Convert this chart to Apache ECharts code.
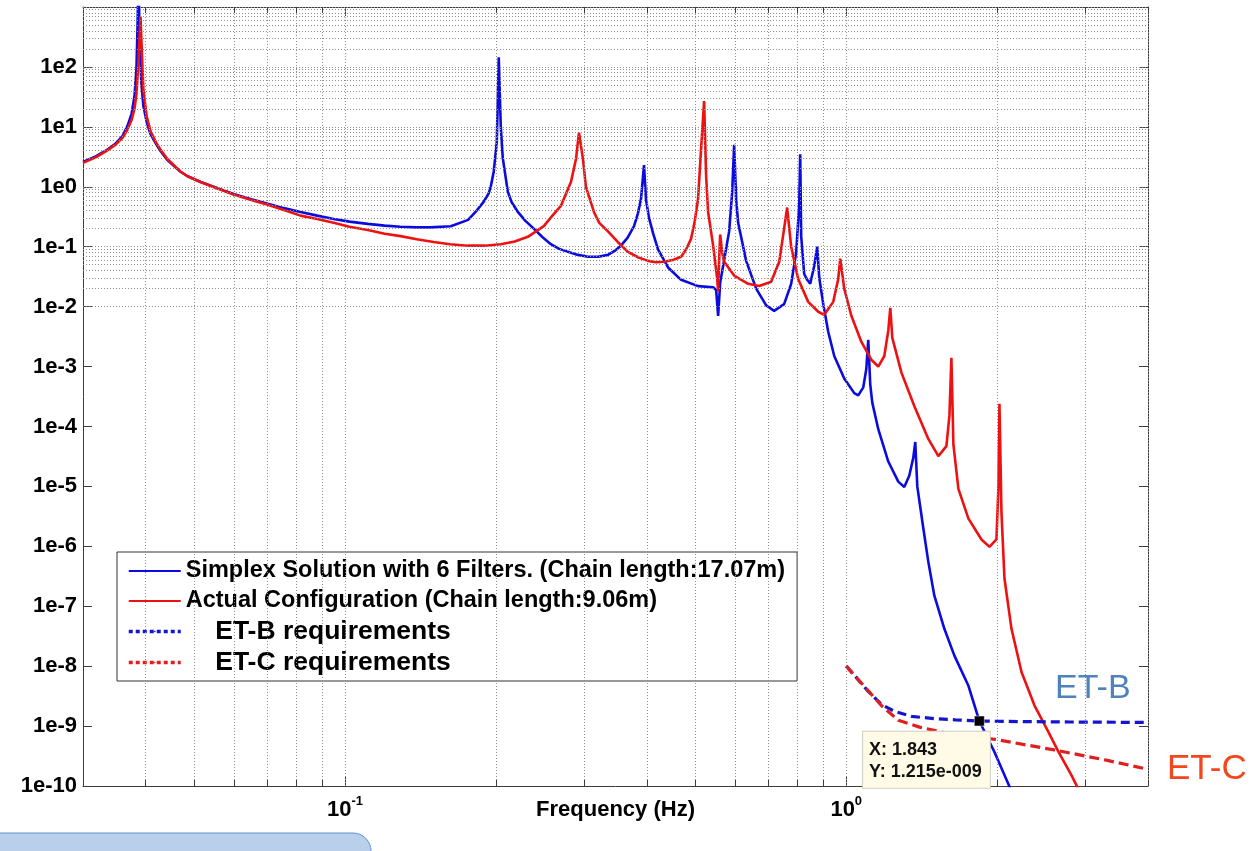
<!DOCTYPE html>
<html>
<head>
<meta charset="utf-8">
<script src="https://cdn.jsdelivr.net/npm/echarts@6/dist/echarts.min.js"></script>
<style>
html,body{margin:0;padding:0;background:#ffffff;}
#chart{width:1255px;height:851px;}
</style>
</head>
<body>
<div id="chart"></div>
<script>
// ---------------- data ----------------
const seriesNames = [
  'Simplex Solution with 6 Filters. (Chain length:17.07m)',
  'Actual Configuration (Chain length:9.06m)',
  'ET-B requirements',
  'ET-C requirements'
];

const simplexFreq = [0.0300, 0.0318, 0.0333, 0.0348, 0.0360, 0.0368, 0.0375, 0.0380, 0.03835, 0.03853, 0.03871, 0.03889, 0.03907, 0.03925, 0.0396, 0.0402, 0.0409, 0.0419, 0.0428, 0.0442, 0.0469, 0.0485, 0.0515, 0.055, 0.0599, 0.065, 0.0701, 0.0755, 0.0815, 0.088, 0.0949, 0.102, 0.111, 0.12, 0.129, 0.139, 0.148, 0.1625, 0.176, 0.1821, 0.189, 0.1935, 0.1953, 0.198, 0.2008, 0.2026, 0.2045, 0.2064, 0.2112, 0.215, 0.2212, 0.229, 0.238, 0.2475, 0.2574, 0.2675, 0.2784, 0.2915, 0.3052, 0.32, 0.3346, 0.345, 0.3552, 0.366, 0.3772, 0.384, 0.3895, 0.3949, 0.3986, 0.4042, 0.4115, 0.4211, 0.441, 0.4682, 0.5062, 0.5425, 0.55, 0.5551, 0.5603, 0.5707, 0.5839, 0.592, 0.5975, 0.6031, 0.6086, 0.6313, 0.6611, 0.6922, 0.718, 0.7517, 0.7764, 0.7945, 0.8056, 0.8093, 0.813, 0.8243, 0.8358, 0.8475, 0.8633, 0.8752, 0.8834, 0.8999, 0.9205, 0.9463, 0.9908, 1.0375, 1.0568, 1.0813, 1.0964, 1.1064, 1.1166, 1.127, 1.1585, 1.213, 1.27, 1.3056, 1.3357, 1.3606, 1.3731, 1.3859, 1.4248, 1.458, 1.4989, 1.5695, 1.6434, 1.753, 1.843, 1.9755, 2.107, 2.186];
const simplexAmp = [2.6, 3.2, 4.0, 5.2, 7.1, 10.4, 16.5, 32, 93, 435, 3000, 400, 120, 50, 22, 12, 7.6, 5.3, 4.0, 2.8, 1.8, 1.5, 1.2, 0.98, 0.76, 0.62, 0.52, 0.44, 0.38, 0.33, 0.29, 0.262, 0.24, 0.225, 0.215, 0.21, 0.21, 0.22, 0.28, 0.38, 0.56, 0.78, 1.0, 1.8, 5.6, 145, 10, 3.0, 0.83, 0.55, 0.38, 0.27, 0.2, 0.145, 0.11, 0.092, 0.082, 0.073, 0.068, 0.068, 0.073, 0.085, 0.104, 0.14, 0.22, 0.36, 0.63, 2.3, 0.6, 0.3, 0.17, 0.09, 0.045, 0.028, 0.022, 0.021, 0.019, 0.007, 0.025, 0.06, 0.18, 0.8, 5.0, 0.6, 0.25, 0.058, 0.02, 0.0105, 0.0085, 0.011, 0.024, 0.08, 0.5, 3.5, 0.15, 0.035, 0.028, 0.024, 0.048, 0.1, 0.03, 0.011, 0.0038, 0.0015, 6.3e-4, 3.6e-4, 3.3e-4, 4.5e-4, 9e-4, 2.8e-3, 5e-4, 2.5e-4, 9e-5, 2.6e-5, 1.2e-5, 9.8e-6, 1.5e-5, 3e-5, 5.5e-5, 1e-5, 2e-6, 5.5e-7, 1.5e-7, 4.2e-8, 1.5e-8, 4.7e-9, 1.215e-9, 3.7e-10, 1.07e-10, 5e-11];

const actualFreq = [0.0300, 0.0318, 0.0333, 0.0348, 0.0360, 0.0368, 0.0375, 0.0380, 0.03835, 0.03871, 0.03889, 0.03907, 0.03925, 0.0396, 0.0402, 0.0409, 0.0419, 0.0428, 0.0442, 0.0469, 0.0485, 0.0515, 0.055, 0.0599, 0.065, 0.0701, 0.0755, 0.0815, 0.088, 0.0949, 0.102, 0.111, 0.12, 0.129, 0.139, 0.1503, 0.162, 0.1757, 0.19, 0.2045, 0.218, 0.2316, 0.2492, 0.2585, 0.2696, 0.2823, 0.2889, 0.2929, 0.2983, 0.3024, 0.3137, 0.3215, 0.3346, 0.35, 0.3669, 0.385, 0.4023, 0.417, 0.4329, 0.451, 0.4682, 0.479, 0.4901, 0.498, 0.5062, 0.5133, 0.5205, 0.5253, 0.5301, 0.5425, 0.5525, 0.5551, 0.5577, 0.5603, 0.5655, 0.5707, 0.5975, 0.6372, 0.6703, 0.7083, 0.735, 0.7517, 0.7622, 0.7764, 0.8018, 0.8396, 0.8793, 0.9038, 0.9419, 0.9638, 0.9728, 0.9908, 1.0233, 1.0715, 1.1218, 1.1585, 1.1911, 1.213, 1.2243, 1.2357, 1.2881, 1.3668, 1.458, 1.5268, 1.5842, 1.6063, 1.6211, 1.636, 1.6741, 1.753, 1.8612, 1.931, 1.9937, 2.0122, 2.0215, 2.0402, 2.0686, 2.1364, 2.237, 2.3749, 2.5322, 2.6515, 2.815, 2.9469];
const actualAmp = [2.5, 3.1, 3.9, 5.0, 6.6, 9, 13, 20, 35, 120, 300, 690, 250, 40, 15, 8.5, 5.6, 4.2, 2.9, 1.8, 1.5, 1.2, 0.97, 0.74, 0.6, 0.5, 0.41, 0.33, 0.29, 0.25, 0.215, 0.19, 0.165, 0.15, 0.133, 0.12, 0.11, 0.104, 0.104, 0.11, 0.122, 0.146, 0.22, 0.32, 0.48, 1.2, 2.9, 8.0, 2.9, 1.0, 0.38, 0.25, 0.18, 0.12, 0.082, 0.066, 0.058, 0.055, 0.056, 0.06, 0.068, 0.09, 0.135, 0.25, 0.63, 4.3, 27, 1.5, 0.38, 0.104, 0.03, 0.0177, 0.06, 0.16, 0.08, 0.056, 0.033, 0.024, 0.022, 0.026, 0.056, 0.2, 0.45, 0.1, 0.029, 0.012, 0.0082, 0.0073, 0.012, 0.029, 0.063, 0.02, 0.0071, 0.0026, 0.0013, 0.001, 0.0015, 0.004, 0.0095, 0.003, 8e-4, 2.2e-4, 6.2e-5, 3.2e-5, 4.7e-5, 1.5e-4, 1.4e-3, 5e-5, 9.1e-6, 2.9e-6, 1.3e-6, 9.8e-7, 1.3e-6, 1e-5, 2.4e-4, 3.7e-6, 2.9e-7, 4.2e-8, 8e-9, 2.2e-9, 7.9e-10, 3.7e-10, 1.5e-10, 7e-11];

const etBFreq = [1.0, 1.04, 1.1, 1.175, 1.25, 1.35, 1.5, 1.65, 1.843, 2.2, 2.8, 4.0];
const etBAmp  = [1e-8, 6.9e-9, 4.0e-9, 2.3e-9, 1.75e-9, 1.45e-9, 1.33e-9, 1.27e-9, 1.215e-9, 1.19e-9, 1.17e-9, 1.15e-9];

const etCFreq = [1.0, 1.04, 1.084, 1.175, 1.27, 1.4, 1.6, 1.98, 2.6, 3.3, 4.0];
const etCAmp  = [1e-8, 6.9e-9, 4.7e-9, 2.2e-9, 1.25e-9, 9.6e-10, 7.5e-10, 6e-10, 4e-10, 2.7e-10, 1.9e-10];

const datatip = [1.843, 1.215e-9];

const xRange = [0.03, 4];
const yRange = [1e-10, 1e3];
const xDecadeTicks = [0.1, 1];
const xMinorTicks = [0.04, 0.05, 0.06, 0.07, 0.08, 0.09, 0.2, 0.3, 0.4, 0.5, 0.6, 0.7, 0.8, 0.9, 2, 3, 4];
const yDecadeExponents = [-10, -9, -8, -7, -6, -5, -4, -3, -2, -1, 0, 1, 2, 3];
const yMinorMultipliers = [2, 3, 4, 5, 6, 7, 8, 9];

// ---------------- helpers ----------------
const zip = (xs, ys) => xs.map((x, i) => [x, ys[i]]);
const FONT = '"Liberation Sans", Arial, Helvetica, sans-serif';
const yDecades = yDecadeExponents.map(e => Math.pow(10, e));
const yMinor = [];
yDecadeExponents.slice(0, -1).forEach(e => yMinorMultipliers.forEach(m => yMinor.push(m * Math.pow(10, e))));

function fmtExp(v) {
  const e = Math.floor(Math.log10(v) + 1e-9);
  const m = v / Math.pow(10, e);
  const s = e < 0 ? '-' : '+';
  return m.toFixed(3) + 'e' + s + String(Math.abs(e)).padStart(3, '0');
}

const gridLineData = []
  .concat(xDecadeTicks.map(v => ({ xAxis: v })))
  .concat(xMinorTicks.map(v => ({ xAxis: v })))
  .concat(yDecades.map(v => ({ yAxis: v })))
  .concat(yMinor.map(v => ({ yAxis: v })));

const tickFactor = Math.pow(10, 6 / 60); // short minor tick (~6px)
const minorTickData = [];
xMinorTicks.forEach(v => {
  minorTickData.push([{ coord: [v, yRange[0]] }, { coord: [v, yRange[0] * tickFactor] }]);
  minorTickData.push([{ coord: [v, yRange[1]] }, { coord: [v, yRange[1] / tickFactor] }]);
});

const axisColor = '#3c3c3c';

const chart = echarts.init(document.getElementById('chart'), null, { renderer: 'canvas' });
chart.setOption({
  animation: false,
  backgroundColor: '#ffffff',
  grid: { left: 83, right: 107, top: 7, bottom: 65, containLabel: false },
  xAxis: [
    {
      type: 'log', logBase: 10, min: xRange[0], max: xRange[1], position: 'bottom',
      axisLine: { show: true, onZero: false, lineStyle: { color: axisColor, width: 1 } },
      axisTick: { show: true, inside: true, length: 9, lineStyle: { color: axisColor } },
      splitLine: { show: false },
      axisLabel: {
        showMinLabel: false, showMaxLabel: false, margin: 9,
        formatter: function (v) {
          const l = Math.log10(v), e = Math.round(l);
          if (Math.abs(l - e) > 1e-6) return '';
          return '{b|10}{s|' + e + '}';
        },
        rich: {
          b: { fontSize: 22, fontWeight: 'bold', fontFamily: FONT, color: '#000', lineHeight: 30 },
          s: { fontSize: 13, fontWeight: 'bold', fontFamily: FONT, color: '#000', lineHeight: 12, verticalAlign: 'top' }
        }
      },
      name: 'Frequency (Hz)', nameLocation: 'middle', nameGap: 13, nameMoveOverlap: false,
      nameTextStyle: { fontSize: 22, fontWeight: 'bold', fontFamily: FONT, color: '#000', verticalAlign: 'top' }
    },
    {
      type: 'log', logBase: 10, min: xRange[0], max: xRange[1], position: 'top',
      axisLine: { show: true, onZero: false, lineStyle: { color: axisColor, width: 1 } },
      axisTick: { show: true, inside: true, length: 9, lineStyle: { color: axisColor } },
      axisLabel: { show: false }, splitLine: { show: false }
    }
  ],
  yAxis: [
    {
      type: 'log', logBase: 10, min: yRange[0], max: yRange[1], interval: 1, position: 'left',
      axisLine: { show: true, onZero: false, lineStyle: { color: axisColor, width: 1 } },
      axisTick: { show: true, inside: true, length: 9, lineStyle: { color: axisColor } },
      splitLine: { show: false },
      axisLabel: {
        showMaxLabel: false, margin: 6, color: '#000', fontSize: 22, fontWeight: 'bold', fontFamily: FONT,
        formatter: v => '1e' + Math.round(Math.log10(v))
      }
    },
    {
      type: 'log', logBase: 10, min: yRange[0], max: yRange[1], interval: 1, position: 'right',
      axisLine: { show: true, onZero: false, lineStyle: { color: axisColor, width: 1 } },
      axisTick: { show: true, inside: true, length: 9, lineStyle: { color: axisColor } },
      axisLabel: { show: false }, splitLine: { show: false }
    }
  ],
  legend: {
    orient: 'vertical', left: 117, top: 552,
    backgroundColor: '#ffffff', borderColor: '#333333', borderWidth: 1,
    padding: [6, 12, 5, 10], itemGap: 4, itemWidth: 52, itemHeight: 2,
    selectedMode: false,
    textStyle: { fontSize: 23.5, fontWeight: 'bold', fontFamily: FONT, color: '#000', lineHeight: 26 },
    formatter: name => (name.indexOf('ET-') === 0 ? '    ' + name : name),
    data: [
      { name: seriesNames[0] },
      { name: seriesNames[1] },
      { name: seriesNames[2], textStyle: { fontSize: 26.5, lineHeight: 26 }, lineStyle: { type: [4, 3], width: 3.5 } },
      { name: seriesNames[3], textStyle: { fontSize: 26.5, lineHeight: 26 }, lineStyle: { type: [4, 3], width: 3.5 } }
    ]
  },
  series: [
    {
      name: 'gridlines', type: 'line', data: [], silent: true, z: 1,
      markLine: {
        silent: true, animation: false, symbol: ['none', 'none'], label: { show: false },
        emphasis: { disabled: true },
        lineStyle: { color: '#8f8f8f', width: 1, type: [1, 2] },
        data: gridLineData
      }
    },
    {
      name: 'minorticks', type: 'line', data: [], silent: true, z: 5,
      markLine: {
        silent: true, animation: false, symbol: ['none', 'none'], label: { show: false },
        emphasis: { disabled: true },
        lineStyle: { color: axisColor, width: 1, type: 'solid' },
        data: minorTickData
      }
    },
    {
      name: seriesNames[0], type: 'line', data: zip(simplexFreq, simplexAmp),
      symbol: 'none', showSymbol: false, z: 3,
      lineStyle: { color: '#0b0be0', width: 2.6 }, itemStyle: { color: '#0b0be0' }
    },
    {
      name: seriesNames[1], type: 'line', data: zip(actualFreq, actualAmp),
      symbol: 'none', showSymbol: false, z: 3,
      lineStyle: { color: '#ee1111', width: 2.6 }, itemStyle: { color: '#ee1111' }
    },
    {
      name: seriesNames[2], type: 'line', data: zip(etBFreq, etBAmp),
      symbol: 'none', showSymbol: false, z: 3,
      lineStyle: { color: '#1515d0', width: 3.2, type: [9, 5] }, itemStyle: { color: '#1515d0' }
    },
    {
      name: seriesNames[3], type: 'line', data: zip(etCFreq, etCAmp),
      symbol: 'none', showSymbol: false, z: 3,
      lineStyle: { color: '#e02020', width: 3.2, type: [10, 5] }, itemStyle: { color: '#e02020' }
    },
    {
      name: 'datatip', type: 'scatter', data: [datatip], symbol: 'rect', symbolSize: 10,
      z: 20, zlevel: 1,
      itemStyle: { color: '#000', borderColor: '#fff', borderWidth: 0.5, opacity: 1 },
      label: {
        show: true, position: [-111, 16], align: 'left', verticalAlign: 'top',
        formatter: 'X: ' + datatip[0] + '\nY: ' + fmtExp(datatip[1]),
        backgroundColor: '#fffbe6', borderColor: '#cfcfc0', borderWidth: 1, opacity: 1,
        padding: [7, 8, 5, 6], fontSize: 18, fontWeight: 'bold', fontFamily: FONT, color: '#111', lineHeight: 22
      }
    }
  ],
  graphic: [
    {
      type: 'rect', silent: true, z: 0,
      shape: { x: -20, y: 833, width: 391, height: 40, r: 18 },
      style: { fill: '#b9cfea', stroke: '#5f93d3', lineWidth: 1 }
    },
    {
      type: 'text', silent: true, x: 1055, y: 689,
      style: { text: 'ET-B', fill: '#4f81bd', font: '34px ' + FONT, align: 'left', verticalAlign: 'middle' }
    },
    {
      type: 'text', silent: true, x: 1167, y: 769,
      style: { text: 'ET-C', fill: '#f2461c', font: '35px ' + FONT, align: 'left', verticalAlign: 'middle' }
    }
  ]
});
</script>
</body>
</html>
